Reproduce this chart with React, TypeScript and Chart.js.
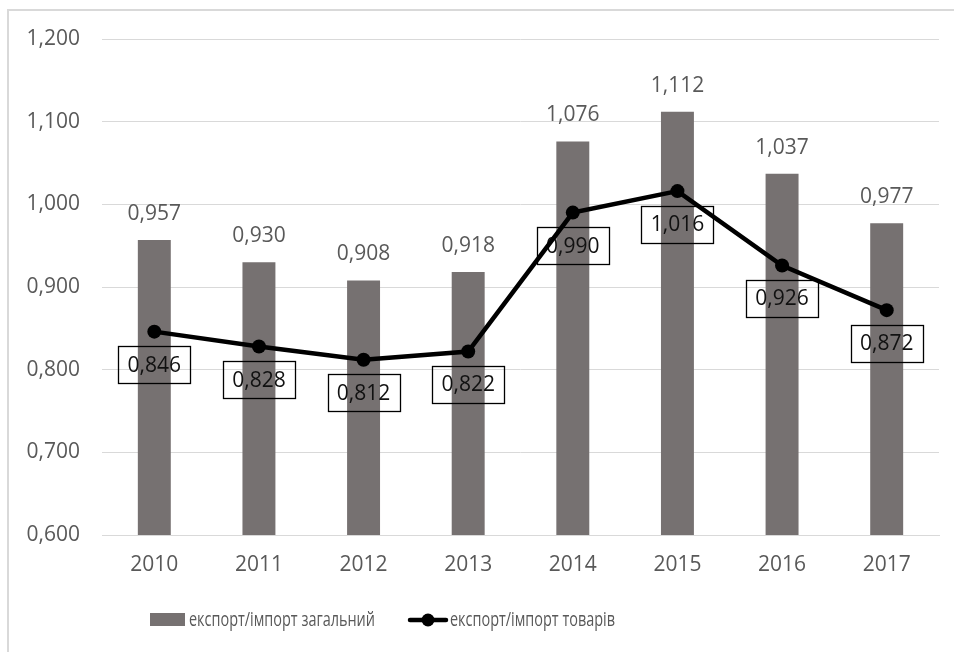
import React, { useEffect, useRef } from "react";
import { Chart, registerables } from "chart.js";

Chart.register(...registerables);

const years = ["2010", "2011", "2012", "2013", "2014", "2015", "2016", "2017"];
const totalRatio = [0.957, 0.93, 0.908, 0.918, 1.076, 1.112, 1.037, 0.977];
const goodsRatio = [0.846, 0.828, 0.812, 0.822, 0.99, 1.016, 0.926, 0.872];
const seriesNames = ["експорт/імпорт загальний", "експорт/імпорт товарів"];

const FONT = "'Open Sans', 'Noto Sans', sans-serif";
const BAR_COLOR = "#767171";
const TEXT_GRAY = "#595959";

const fmt = (v: number) => v.toFixed(3).replace(".", ",");

const labelsPlugin = {
  id: "valueLabels",
  afterDatasetDraw(chart: any, args: any) {
    if (args.index !== 0) return;
    const ctx = chart.ctx;
    ctx.save();
    ctx.font = `21px ${FONT}`;
    ctx.textAlign = "center";
    ctx.textBaseline = "middle";
    const barMeta = chart.getDatasetMeta(0);
    barMeta.data.forEach((el: any, i: number) => {
      ctx.fillStyle = TEXT_GRAY;
      ctx.fillText(fmt(totalRatio[i]), el.x, el.y - 26);
    });
    const lineMeta = chart.getDatasetMeta(1);
    lineMeta.data.forEach((el: any, i: number) => {
      const t = fmt(goodsRatio[i]);
      const cx = el.x;
      const cy = el.y + 33;
      const w = 72;
      const h = 37;
      ctx.strokeStyle = "#000";
      ctx.lineWidth = 1.3;
      ctx.strokeRect(Math.round(cx - w / 2) + 0.5, Math.round(cy - h / 2) + 0.5, w, h);
      ctx.fillStyle = "#111";
      ctx.fillText(t, cx, cy + 1);
    });
    ctx.restore();
  },
};

const legendPlugin = {
  id: "customLegend",
  afterDraw(chart: any) {
    const ctx = chart.ctx;
    const y = 620;
    ctx.save();
    ctx.font = `20px ${FONT}`;
    ctx.textBaseline = "middle";
    ctx.textAlign = "left";
    ctx.fillStyle = BAR_COLOR;
    ctx.fillRect(150, y - 7, 35, 13);
    ctx.fillStyle = TEXT_GRAY;
    ctx.fillText(seriesNames[0], 189, y, 186);
    ctx.strokeStyle = "#000";
    ctx.lineWidth = 4.5;
    ctx.lineCap = "round";
    ctx.beginPath();
    ctx.moveTo(410, y);
    ctx.lineTo(446, y);
    ctx.stroke();
    ctx.fillStyle = "#000";
    ctx.beginPath();
    ctx.arc(428, y, 6.5, 0, Math.PI * 2);
    ctx.fill();
    ctx.fillStyle = TEXT_GRAY;
    ctx.fillText(seriesNames[1], 450, y, 165);
    ctx.restore();
  },
};

export default function App() {
  const canvasRef = useRef<HTMLCanvasElement | null>(null);

  useEffect(() => {
    if (!canvasRef.current) return;
    const chart = new Chart(canvasRef.current, {
      type: "bar",
      data: {
        labels: years,
        datasets: [
          {
            type: "bar",
            label: seriesNames[0],
            data: totalRatio,
            backgroundColor: BAR_COLOR,
            barPercentage: 0.315,
            categoryPercentage: 1,
            order: 1,
          },
          {
            type: "line",
            label: seriesNames[1],
            data: goodsRatio,
            borderColor: "#000",
            backgroundColor: "#000",
            borderWidth: 4.5,
            pointRadius: 7,
            pointBackgroundColor: "#000",
            pointBorderWidth: 0,
            tension: 0,
            order: 0,
          },
        ],
      },
      options: {
        responsive: false,
        animation: false,
        layout: { padding: { top: 39, right: 15, bottom: 0, left: 0 } },
        plugins: {
          legend: { display: false },
          tooltip: { enabled: false },
        },
        scales: {
          x: {
            offset: true,
            grid: { display: false, drawTicks: false },
            border: { display: true, color: "#d9d9d9", width: 1 },
            ticks: {
              color: TEXT_GRAY,
              font: { family: FONT, size: 21 },
              padding: 17,
            },
            afterFit: (scale: any) => {
              scale.height = 117;
            },
          },
          y: {
            min: 0.6,
            max: 1.2,
            grid: { color: "#d9d9d9", lineWidth: 1, drawTicks: false },
            border: { display: false },
            ticks: {
              stepSize: 0.1,
              color: TEXT_GRAY,
              font: { family: FONT, size: 21 },
              padding: 22,
              callback: (v: any) => fmt(Number(v)),
            },
            afterFit: (scale: any) => {
              scale.width = 102;
            },
          },
        },
      },
      plugins: [labelsPlugin, legendPlugin],
    });
    return () => chart.destroy();
  }, []);

  return (
    <div
      style={{
        position: "fixed",
        left: 0,
        top: 0,
        width: 954,
        height: 652,
        overflow: "hidden",
        background: "#fff",
      }}
    >
      <div
        style={{
          position: "absolute",
          left: 7,
          top: 9,
          width: 2000,
          height: 2000,
          border: "2px solid #d9d9d9",
        }}
      />
      <canvas
        ref={canvasRef}
        width={954}
        height={652}
        style={{ position: "absolute", left: 0, top: 0, width: 954, height: 652 }}
      />
    </div>
  );
}
